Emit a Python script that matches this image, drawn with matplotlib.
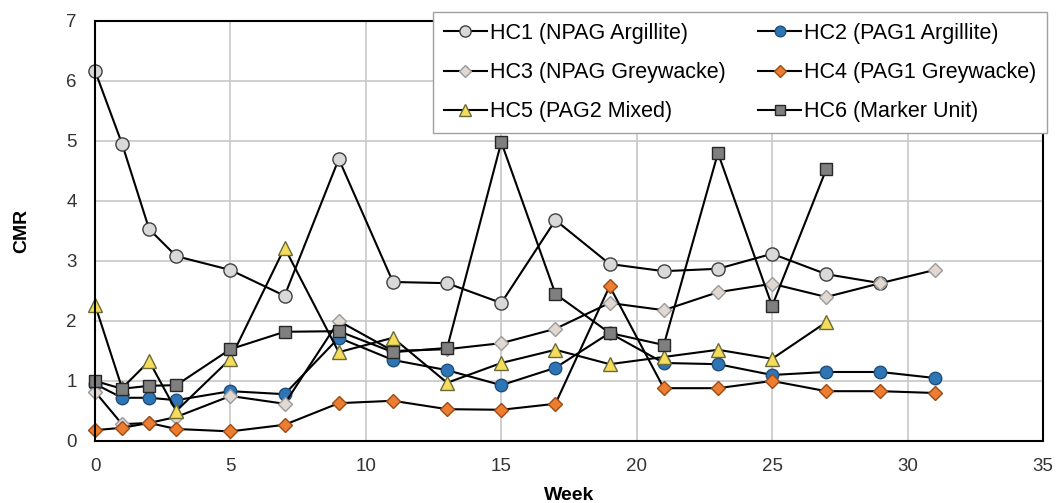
import matplotlib.pyplot as plt

plt.rcParams["font.family"] = ["Liberation Sans", "DejaVu Sans"]

# sampling weeks (HC1 stops at 29, HC5/HC6 stop at 27)
weeks = [0, 1, 2, 3, 5, 7, 9, 11, 13, 15, 17, 19, 21, 23, 25, 27, 29, 31]

hc1 = [6.17, 4.95, 3.53, 3.08, 2.85, 2.42, 4.7, 2.65, 2.63, 2.3, 3.68, 2.95,
       2.83, 2.87, 3.12, 2.78, 2.63]
hc2 = [0.95, 0.72, 0.72, 0.68, 0.83, 0.78, 1.72, 1.35, 1.18, 0.93, 1.22, 1.8,
       1.3, 1.28, 1.1, 1.15, 1.15, 1.05]
hc3 = [0.82, 0.28, 0.3, 0.4, 0.75, 0.62, 2.0, 1.5, 1.53, 1.63, 1.87, 2.3,
       2.18, 2.48, 2.62, 2.4, 2.63, 2.85]
hc4 = [0.18, 0.22, 0.3, 0.2, 0.16, 0.27, 0.63, 0.67, 0.53, 0.52, 0.62, 2.58,
       0.88, 0.88, 1.0, 0.83, 0.83, 0.8]
hc5 = [2.27, 0.88, 1.33, 0.5, 1.37, 3.22, 1.48, 1.72, 0.97, 1.3, 1.52, 1.28,
       1.4, 1.52, 1.37, 1.98]
hc6 = [1.0, 0.87, 0.92, 0.93, 1.53, 1.82, 1.83, 1.48, 1.55, 4.98, 2.45, 1.8,
       1.6, 4.8, 2.25, 4.53]

labels = ["HC1 (NPAG Argillite)", "HC2 (PAG1 Argillite)",
          "HC3 (NPAG Greywacke)", "HC4 (PAG1 Greywacke)",
          "HC5 (PAG2 Mixed)", "HC6 (Marker Unit)"]

fig, ax = plt.subplots(figsize=(10.58, 5.03), dpi=100)
fig.subplots_adjust(left=0.0898, right=0.9858, bottom=0.1233, top=0.9583)

# series: data, marker, size, face, edge
series = [
    (hc1, "o", 9.5, "#d9d9d9", "#404040"),
    (hc2, "o", 9, "#2e75b6", "#1f4e79"),
    (hc3, "D", 7.5, "#e2d8d2", "#9a9a9a"),
    (hc4, "D", 7.5, "#ed7d31", "#9c4a14"),
    (hc5, "^", 10, "#f5dc5a", "#6b6b3a"),
    (hc6, "s", 8.5, "#7f7f7f", "#262626"),
]

handles = []
for (vals, mk, ms, fc, ec), lab in zip(series, labels):
    ln, = ax.plot(weeks[:len(vals)], vals, color="black", lw=1.5, marker=mk,
                  ms=ms, mfc=fc, mec=ec, mew=1.0, label=lab, clip_on=False)
    handles.append(ln)

ax.set_xlim(0, 35)
ax.set_ylim(0, 7)
ax.set_xticks(range(0, 36, 5))
ax.set_yticks(range(0, 8))
ax.grid(True, color="#cccccc", lw=1.3)
ax.set_axisbelow(True)
for sp in ax.spines.values():
    sp.set_color("black")
    sp.set_linewidth(1.5)
ax.tick_params(length=0, labelsize=13.5, pad=12, colors="#333333")
ax.tick_params(axis="y", pad=13)

ax.set_xlabel("Week", fontsize=14, fontweight="bold", labelpad=9)
ax.set_ylabel("CMR", fontsize=14, fontweight="bold", labelpad=26)

# legend is filled row by row in the original
order = [0, 2, 4, 1, 3, 5]
leg = fig.legend([handles[i] for i in order], [labels[i] for i in order],
                 ncol=2, loc="upper left",
                 bbox_to_anchor=(433 / 1058, 1 - 12 / 503),
                 fontsize=15.5, handlelength=2.0, handletextpad=0.15,
                 borderpad=0.5, labelspacing=0.85, columnspacing=1.5,
                 borderaxespad=0, fancybox=False, framealpha=1,
                 edgecolor="#a0a0a0", markerscale=0.85)
leg.get_frame().set_linewidth(1.0)

plt.savefig("out.png", dpi=100)
